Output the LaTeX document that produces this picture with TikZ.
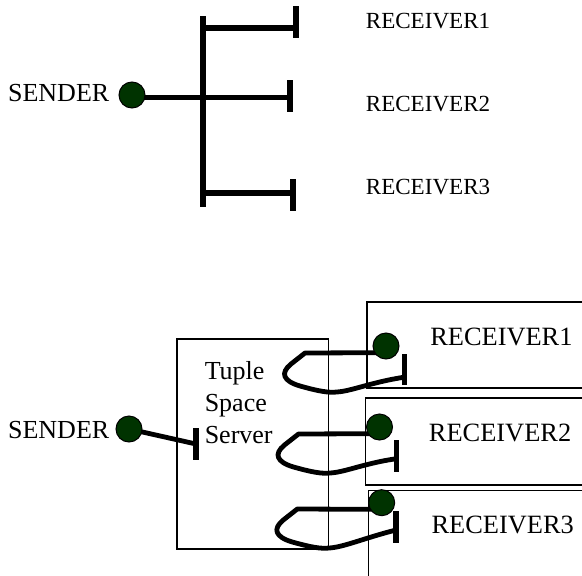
\documentclass[tikz,border=0pt]{standalone}
\usepackage{fontspec}
\setmainfont{Liberation Serif}
\usetikzlibrary{backgrounds}
\definecolor{dotgreen}{RGB}{0,51,0}

\begin{document}
\begin{tikzpicture}[x=0.75pt, y=-0.75pt,
  dot/.style={circle, draw=black, line width=0.75pt, fill=dotgreen, minimum size=19.5pt, inner sep=0pt},
  tbar/.style={fill=black, inner sep=0pt, minimum width=4.5pt, minimum height=24pt},
  lbar/.style={fill=black, inner sep=0pt, minimum width=3.9pt, minimum height=23.5pt},
  wire/.style={line width=4.1pt},
  lwire/.style={line width=3.6pt, line join=round},
  box/.style={draw, line width=0.9pt, inner sep=0pt},
  lbl/.style={inner sep=0pt, font=\fontsize{19.5}{24}\selectfont},
  small/.style={inner sep=0pt, font=\fontsize{17.3}{21}\selectfont},
  rlbl/.style={inner sep=0pt, font=\fontsize{19.8}{24}\selectfont}]
\useasboundingbox (0,0) rectangle (582,575);
\clip (0,0) rectangle (582,575);
% top: direct broadcast
\node[lbl, anchor=base east] (snd1) at (109.5,101) {SENDER};
\node[dot] (s1) at (132,95) {};
\coordinate (sp1) at (203,16);\coordinate (sp2) at (203,207);
\coordinate (j1) at (203,28);\coordinate (j3) at (203,193);
\node[tbar] (tb1) at (296,22) {};\node[tbar] (tb2) at (290,96) {};\node[tbar] (tb3) at (293,195) {};
\node[small, anchor=base west] (rc1) at (365.6,28) {RECEIVER1};
\node[small, anchor=base west] (rc2) at (365.6,111) {RECEIVER2};
\node[small, anchor=base west] (rc3) at (365.6,194) {RECEIVER3};
% bottom: through the tuple space server
\node[lbl, anchor=base east] (snd2) at (109.5,438.3) {SENDER};
\node[dot] (s2) at (129,429) {};
\node[lbar] (bb) at (196,444) {};
\node[box, minimum width=113.6pt, minimum height=157.5pt] (srv) at (252.8,444) {};
\node[lbl, align=left, anchor=north west] (srvtxt) at (204.5,361) {Tuple\\Space\\Server};
\node[dot] (d1) at (386,346) {};\node[lbar] (b1) at (404.3,369.2) {};
\node[dot] (d2) at (379.5,427) {};\node[lbar] (b2) at (396.7,456) {};
\node[dot] (d3) at (381.7,502.7) {};\node[lbar] (b3) at (396,527) {};
\node[rlbl, anchor=base west] (rr1) at (430,345) {RECEIVER1};
\node[rlbl, anchor=base west] (rr2) at (428.7,441) {RECEIVER2};
\node[rlbl, anchor=base west] (rr3) at (431.3,533) {RECEIVER3};
\begin{pgfonlayer}{background}
\draw[line width=0.9pt] (367,302) rectangle (600,388);
\draw[line width=0.9pt] (365.6,398) rectangle (600,485);
\draw[line width=0.9pt] (368.2,490.5) rectangle (600,600);
\draw[wire] (sp1) -- (sp2);
\draw[wire] (j1) -- (j1 -| tb1.center);
\draw[wire] ([yshift=-2pt]s1.center) -- ([yshift=-2pt]s1.center -| tb2.center);
\draw[wire] (j3) -- (j3 -| tb3.center);
\draw[lwire] (s2.center) -- (bb.center);
\draw[lwire] ([yshift=-5pt]d1.center) -- (305,353) -- (291,364) .. controls (280,373) and (283,381) .. (300,386) .. controls (318,391) and (328,393) .. (337,392) .. controls (352,391) and (372,382) .. ([yshift=-6pt]b1.center);
\draw[lwire] ([yshift=-5pt]d2.center) -- (298.5,434) -- (284.5,445) .. controls (273.5,454) and (276.5,462) .. (293.5,467) .. controls (311.5,472) and (321.5,474) .. (330.5,473) .. controls (345.5,472) and (365.5,463) .. ([yshift=-2pt]b2.center);
\draw[lwire] ([yshift=-5pt]d3.center) -- (297.3,509) -- (283.3,520) .. controls (272.3,529) and (275.3,537) .. (292.3,542) .. controls (310.3,547) and (320.3,549) .. (329.3,548) .. controls (344.3,547) and (364.3,538) .. ([yshift=-2.25pt]b3.center);
\end{pgfonlayer}
\end{tikzpicture}
\end{document}
